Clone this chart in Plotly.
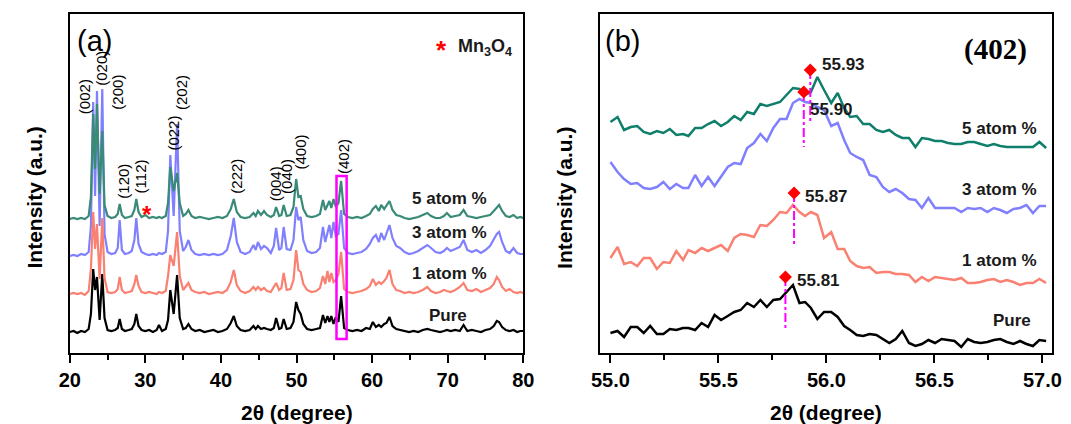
import plotly.graph_objects as go

# ---------------- Panel (a): full XRD patterns ----------------
two_theta_a = [
    20.0, 20.5, 21.0, 21.5, 22.0, 22.5, 22.8, 23.1, 23.35, 23.6,
    23.95, 24.3, 24.6, 25.0, 25.5, 26.0, 26.35, 26.6, 26.9, 27.3,
    27.8, 28.2, 28.55, 28.8, 29.1, 29.5, 30.0, 30.5, 31.0, 31.5,
    31.8, 32.2, 32.7, 33.0, 33.3, 33.75, 34.2, 34.55, 35.0, 35.35,
    35.7, 36.1, 36.6, 37.2, 37.8, 38.4, 39.0, 39.6, 40.2, 40.8,
    41.3, 41.7, 42.1, 42.6, 43.2, 43.8, 44.3, 44.6, 44.9, 45.3,
    45.7, 46.1, 46.6, 47.0, 47.3, 47.7, 48.0, 48.3, 48.7, 49.2,
    49.6, 49.95, 50.25, 50.55, 50.9, 51.4, 52.0, 52.6, 53.1, 53.5,
    53.8, 54.1, 54.35, 54.6, 54.9, 55.2, 55.55, 55.9, 56.3, 56.8,
    57.4, 58.0, 58.6, 59.2, 59.7, 60.1, 60.5, 60.9, 61.2, 61.6,
    61.9, 62.3, 62.7, 63.2, 63.7, 64.3, 64.9, 65.5, 66.1, 66.7,
    67.3, 67.8, 68.4, 69.0, 69.5, 69.9, 70.4, 71.0, 71.6, 72.1,
    72.6, 73.2, 73.8, 74.4, 75.0, 75.6, 76.1, 76.5, 76.8, 77.2,
    77.7, 78.2, 78.7, 79.2, 79.6, 80.0]

pure_a = [
    0, 1, -1, 1, 0, 3, 18, 63, 42, 55,
    12, 58, 14, 2, 1, 2, 4, 13, 3, 1,
    2, 3, 8, 18, 6, 2, 1, 2, 0, 2,
    7, 1, 3, 12, 42, 18, 57, 14, 3, 4,
    8, 3, 1, 2, 0, 1, 2, 0, 1, 3,
    9, 16, 6, 2, 1, 2, 6, 3, 6, 3,
    4, 3, 2, 4, 14, 3, 4, 13, 3, 4,
    10, 30, 22, 18, 8, 3, 2, 3, 4, 17,
    9, 16, 10, 16, 8, 15, 10, 36, 4, 2,
    1, 2, 1, 4, 3, 10, 5, 7, 5, 8,
    9, 15, 6, 3, 2, 1, 0, 1, 0, 2,
    3, 2, 1, 0, 1, 2, 1, 2, 1, 7,
    1, 2, 1, 0, 2, 3, 6, 11, 10, 5,
    2, 1, 2, 0, 1, 1]

atom1_a = [
    0, 1, 0, 1, -1, 3, 25, 82, 45, 70,
    15, 76, 16, 2, 1, 2, 5, 17, 4, 1,
    2, 3, 10, 19, 8, 2, 1, 2, 1, 0,
    2, 1, 3, 18, 39, 28, 62, 18, 4, 7,
    11, 4, 2, 1, 2, 0, 1, 2, 1, 4,
    12, 24, 9, 3, 1, 3, 7, 4, 7, 4,
    6, 3, 2, 8, 11, 4, 6, 21, 4, 5,
    14, 44, 24, 22, 10, 4, 2, 3, 6, 18,
    10, 23, 12, 21, 12, 14, 20, 42, 5, 2,
    1, 2, 3, 5, 8, 15, 9, 12, 10, 13,
    16, 24, 10, 4, 3, 1, 2, 1, 2, 4,
    7, 3, 1, 2, 4, 3, 2, 4, 7, 11,
    4, 3, 5, 2, 4, 6, 10, 17, 14, 7,
    3, 5, 2, 1, 2, 1]

atom3_a = [
    0, 1, 0, 2, 1, 4, 30, 154, 60, 165,
    30, 167, 22, 4, 2, 3, 8, 36, 6, 2,
    3, 5, 16, 38, 12, 4, 2, 1, 2, 1,
    3, 2, 4, 25, 101, 40, 132, 25, 5, 9,
    16, 6, 2, 1, 2, 1, 2, 1, 2, 6,
    20, 38, 14, 4, 2, 4, 11, 6, 14, 7,
    10, 8, 3, 10, 28, 6, 8, 29, 7, 6,
    16, 49, 36, 39, 16, 5, 3, 4, 8, 29,
    14, 25, 31, 18, 34, 20, 22, 46, 8, 3,
    2, 3, 4, 7, 12, 18, 21, 14, 23, 16,
    22, 31, 18, 10, 8, 4, 2, 3, 5, 8,
    11, 8, 4, 3, 5, 8, 5, 7, 9, 16,
    6, 4, 6, 3, 6, 10, 16, 22, 24, 14,
    5, 3, 8, 3, 2, 2]

atom5_a = [
    0, 1, 0, 1, 0, 3, 22, 105, 50, 115,
    25, 88, 14, 3, 1, 2, 5, 15, 4, 1,
    2, 3, 9, 20, 7, 2, 4, 1, 2, 1,
    2, 1, 3, 16, 52, 28, 46, 16, 3, 5,
    9, 3, 1, 2, 1, 0, 1, 2, 1, 3,
    10, 20, 7, 2, 1, 2, 6, 3, 8, 4,
    8, 4, 2, 4, 12, 3, 4, 14, 3, 4,
    12, 40, 22, 23, 10, 3, 2, 3, 5, 19,
    9, 15, 18, 11, 20, 12, 16, 38, 5, 2,
    1, 2, 1, 3, 5, 10, 13, 8, 14, 10,
    13, 18, 9, 4, 3, 1, 0, 1, 2, 4,
    6, 3, 1, 1, 3, 6, 2, 3, 4, 9,
    3, 2, 1, 2, 3, 4, 8, 12, 14, 8,
    3, 2, 4, 1, 2, 1]

samples = ["Pure", "1 atom %", "3 atom %", "5 atom %"]
offsets_a = [21, 59, 97, 134]

peak_labels = ["(002)", "(020)", "(200)", "(120)", "(112)", "(022)",
               "(202)", "(222)", "(004)", "(040)", "(400)", "(402)"]
peak_label_x = [21.9, 24.1, 26.2, 27.0, 29.35, 33.6, 34.72, 41.95, 47.2, 48.6, 50.4, 56.15]
peak_label_y = [256, 285, 261, 172, 177, 220, 260, 177, 169, 177, 201, 197]

mn3o4_x, mn3o4_y = 30.2, 139
box_x = [55.29, 56.63]
box_y = [14, 177]

sample_label_x_a = [70.1, 70.28, 70.28, 70.28]
sample_label_y_a = [38, 80, 121, 155]

# ---------------- Panel (b): (402) zoom ----------------
two_theta_b = [
    55.000, 55.033, 55.063, 55.094, 55.124, 55.154, 55.184, 55.215, 55.245, 55.275,
    55.305, 55.336, 55.361, 55.392, 55.422, 55.452, 55.482, 55.512, 55.543, 55.573,
    55.603, 55.633, 55.664, 55.694, 55.724, 55.754, 55.785, 55.815, 55.845, 55.875,
    55.901, 55.928, 55.958, 55.989, 56.022, 56.052, 56.082, 56.110, 56.140, 56.170,
    56.200, 56.231, 56.261, 56.291, 56.321, 56.351, 56.382, 56.412, 56.442, 56.472,
    56.503, 56.533, 56.563, 56.593, 56.624, 56.654, 56.684, 56.714, 56.745, 56.775,
    56.805, 56.835, 56.866, 56.896, 56.926, 56.956, 56.986, 57.017]

pure_b = [
    20, 22, 16, 26, 26, 20, 27, 19, 19, 24,
    23, 25, 25, 23, 30, 26, 38, 33, 37, 41,
    43, 50, 46, 53, 46, 53, 54, 61, 68, 50,
    51, 45, 34, 41, 41, 36, 27, 23, 18, 17,
    19, 18, 14, 10, 14, 22, 10, 7, 9, 13,
    10, 14, 13, 12, 6, 14, 11, 10, 11, 13,
    14, 11, 9, 12, 9, 7, 13, 12]

atom1_b = [
    95, 106, 89, 91, 87, 95, 95, 84, 91, 90,
    102, 93, 103, 100, 105, 102, 105, 108, 102, 115,
    119, 118, 116, 128, 127, 133, 141, 140, 148, 141,
    137, 141, 138, 115, 121, 104, 104, 92, 87, 85,
    86, 80, 81, 81, 79, 79, 78, 71, 76, 72,
    76, 75, 74, 73, 75, 70, 70, 71, 73, 74,
    71, 73, 71, 68, 70, 70, 74, 70]

atom3_b = [
    191, 181, 174, 169, 170, 165, 164, 166, 171, 164,
    169, 165, 165, 178, 167, 176, 167, 176, 186, 190,
    189, 205, 210, 219, 212, 225, 234, 234, 250, 254,
    251, 250, 246, 243, 227, 230, 213, 200, 196, 193,
    178, 176, 166, 161, 164, 160, 154, 153, 145, 155,
    145, 145, 145, 145, 141, 145, 144, 145, 141, 145,
    143, 140, 144, 145, 148, 140, 147, 147]

atom5_b = [
    231, 236, 223, 226, 227, 221, 219, 222, 220, 224,
    218, 219, 217, 225, 225, 229, 232, 227, 231, 237,
    233, 241, 239, 249, 247, 249, 251, 258, 265, 264,
    258, 261, 276, 263, 250, 260, 245, 236, 237, 229,
    229, 223, 221, 223, 218, 215, 215, 206, 215, 214,
    212, 212, 210, 209, 209, 211, 211, 209, 207, 209,
    207, 206, 206, 206, 206, 206, 211, 205]

peak_pos_b = [55.81, 55.85, 55.895, 55.925]
peak_text_b = ["55.81", "55.87", "55.90", "55.93"]
marker_y_b = [76, 160, 261, 283]
dropline_bottom_b = [23, 106, 206, 231]
peak_text_x_b = [55.856, 55.893, 55.916, 55.97]
peak_text_y_b = [73, 157, 244, 289]

sample_label_x_b = [56.86, 56.80, 56.80, 56.80]
sample_label_y_b = [33, 93, 164, 225]

# ---------------- styling ----------------
colors_a = ["#000000", "#FA8072", "#8080FF", "#3A8A78"]
colors_b = ["#000000", "#FA8072", "#8080FF", "#0F7F6C"]
FONT = "Liberation Sans, Arial, sans-serif"
W, H = 1071, 424

fig = go.Figure()

series_a = [pure_a, atom1_a, atom3_a, atom5_a]
draw_order = [0, 2, 1, 3]
for i in draw_order:
    fig.add_trace(go.Scatter(
        x=two_theta_a, y=[v + offsets_a[i] for v in series_a[i]],
        mode="lines", line=dict(color=colors_a[i], width=2.2),
        xaxis="x", yaxis="y", showlegend=False, hoverinfo="skip"))

series_b = [pure_b, atom1_b, atom3_b, atom5_b]
for i in draw_order:
    fig.add_trace(go.Scatter(
        x=two_theta_b, y=series_b[i], mode="lines",
        line=dict(color=colors_b[i], width=2.5),
        xaxis="x2", yaxis="y2", showlegend=False, hoverinfo="skip"))

for i in range(4):
    fig.add_trace(go.Scatter(
        x=[peak_pos_b[i], peak_pos_b[i]], y=[marker_y_b[i], dropline_bottom_b[i]],
        mode="lines", line=dict(color="#FF00FF", width=2, dash="dashdot"),
        xaxis="x2", yaxis="y2", showlegend=False, hoverinfo="skip"))
fig.add_trace(go.Scatter(
    x=peak_pos_b, y=marker_y_b, mode="markers",
    marker=dict(symbol="diamond", size=10, color="#FF0000"),
    xaxis="x2", yaxis="y2", showlegend=False, hoverinfo="skip"))

annotations = []
for t, x, y in zip(peak_labels, peak_label_x, peak_label_y):
    annotations.append(dict(text=t, x=x, y=y, xref="x", yref="y", showarrow=False,
                            textangle=-90, xanchor="center", yanchor="middle",
                            font=dict(family=FONT, size=15, color="black")))
for t, x, y in zip(samples, sample_label_x_a, sample_label_y_a):
    annotations.append(dict(text=t, x=x, y=y, xref="x", yref="y", showarrow=False,
                            xanchor="center", yanchor="middle",
                            font=dict(family=FONT, size=17, color="#1a1a1a", weight="bold")))
for t, x, y in zip(samples, sample_label_x_b, sample_label_y_b):
    annotations.append(dict(text=t, x=x, y=y, xref="x2", yref="y2", showarrow=False,
                            xanchor="center", yanchor="middle",
                            font=dict(family=FONT, size=17, color="#1a1a1a", weight="bold")))
for t, x, y in zip(peak_text_b, peak_text_x_b, peak_text_y_b):
    annotations.append(dict(text=t, x=x, y=y, xref="x2", yref="y2", showarrow=False,
                            xanchor="left", yanchor="middle",
                            font=dict(family=FONT, size=17, color="#1a1a1a", weight="bold")))
annotations.append(dict(text="*", x=mn3o4_x, y=mn3o4_y, xref="x", yref="y", showarrow=False,
                        xanchor="center", yanchor="middle",
                        font=dict(family=FONT, size=24, color="#FF0000", weight="bold")))
annotations.append(dict(text="*", x=440 / W, y=1 - 50 / H, xref="paper", yref="paper",
                        showarrow=False, xanchor="center", yanchor="middle",
                        font=dict(family=FONT, size=26, color="#FF0000", weight="bold")))
annotations.append(dict(text="Mn<sub>3</sub>O<sub>4</sub>", x=454 / W, y=1 - 47 / H,
                        xref="paper", yref="paper", showarrow=False,
                        xanchor="left", yanchor="middle",
                        font=dict(family=FONT, size=18, color="#1a1a1a", weight="bold")))
annotations.append(dict(text="(a)", x=85 / W, y=1 - 41 / H, xref="paper", yref="paper",
                        showarrow=False, xanchor="center", yanchor="middle",
                        font=dict(family=FONT, size=29, color="black")))
annotations.append(dict(text="(b)", x=624 / W, y=1 - 41 / H, xref="paper", yref="paper",
                        showarrow=False, xanchor="center", yanchor="middle",
                        font=dict(family=FONT, size=29, color="black")))
annotations.append(dict(text="(402)", x=1005 / W, y=1 - 49 / H, xref="paper", yref="paper",
                        showarrow=False, xanchor="center", yanchor="middle",
                        font=dict(family="Liberation Serif, Times New Roman, serif", size=29,
                                  color="black", weight="bold")))
for cx in (291.5, 832):
    annotations.append(dict(text="2θ (degree)", x=cx / W, y=1 - 412 / H, xref="paper",
                            yref="paper", showarrow=False, xanchor="center", yanchor="middle",
                            font=dict(family=FONT, size=21, color="black", weight="bold")))
for cx in (23, 564.5):
    annotations.append(dict(text="Intensity (a.u.)", x=cx / W, y=1 - 198 / H, xref="paper",
                            yref="paper", showarrow=False, xanchor="center", yanchor="middle",
                            textangle=-90,
                            font=dict(family=FONT, size=21, color="black", weight="bold")))

shapes = [dict(type="rect", xref="x", yref="y", x0=box_x[0], x1=box_x[1], y0=box_y[0], y1=box_y[1],
               line=dict(color="#FF00FF", width=2.5), fillcolor="rgba(0,0,0,0)")]

tickfont = dict(family=FONT, size=20, color="black", weight="bold")
ydom = [1 - 353 / H, 1 - 14 / H]
common_x = dict(showline=True, linecolor="black", linewidth=2, mirror=True, showgrid=False,
                zeroline=False, ticks="outside", ticklen=8, tickwidth=2, tickcolor="black",
                tickfont=tickfont)
common_y = dict(showline=True, linecolor="black", linewidth=2, mirror=True, showgrid=False,
                zeroline=False, showticklabels=False, ticks="", range=[0, 339],
                domain=ydom)

fig.update_layout(
    width=W, height=H, margin=dict(l=0, r=0, t=0, b=0),
    paper_bgcolor="white", plot_bgcolor="white",
    xaxis=dict(common_x, domain=[60 / W, 523 / W], anchor="y", range=[20, 80],
               tick0=20, dtick=10,
               minor=dict(ticks="outside", ticklen=5, tickwidth=2, tickcolor="black", dtick=5)),
    yaxis=dict(common_y, anchor="x"),
    xaxis2=dict(common_x, domain=[601 / W, 1063 / W], anchor="y2", range=[54.95, 57.045],
                tick0=55, dtick=0.5, tickformat=".1f",
                minor=dict(ticks="outside", ticklen=5, tickwidth=2, tickcolor="black", dtick=0.25)),
    yaxis2=dict(common_y, anchor="x2"),
    annotations=annotations, shapes=shapes,
)

fig.write_html("out.html", config={"displayModeBar": False},
               post_script="document.body.style.margin='0';document.body.style.overflow='hidden';")
